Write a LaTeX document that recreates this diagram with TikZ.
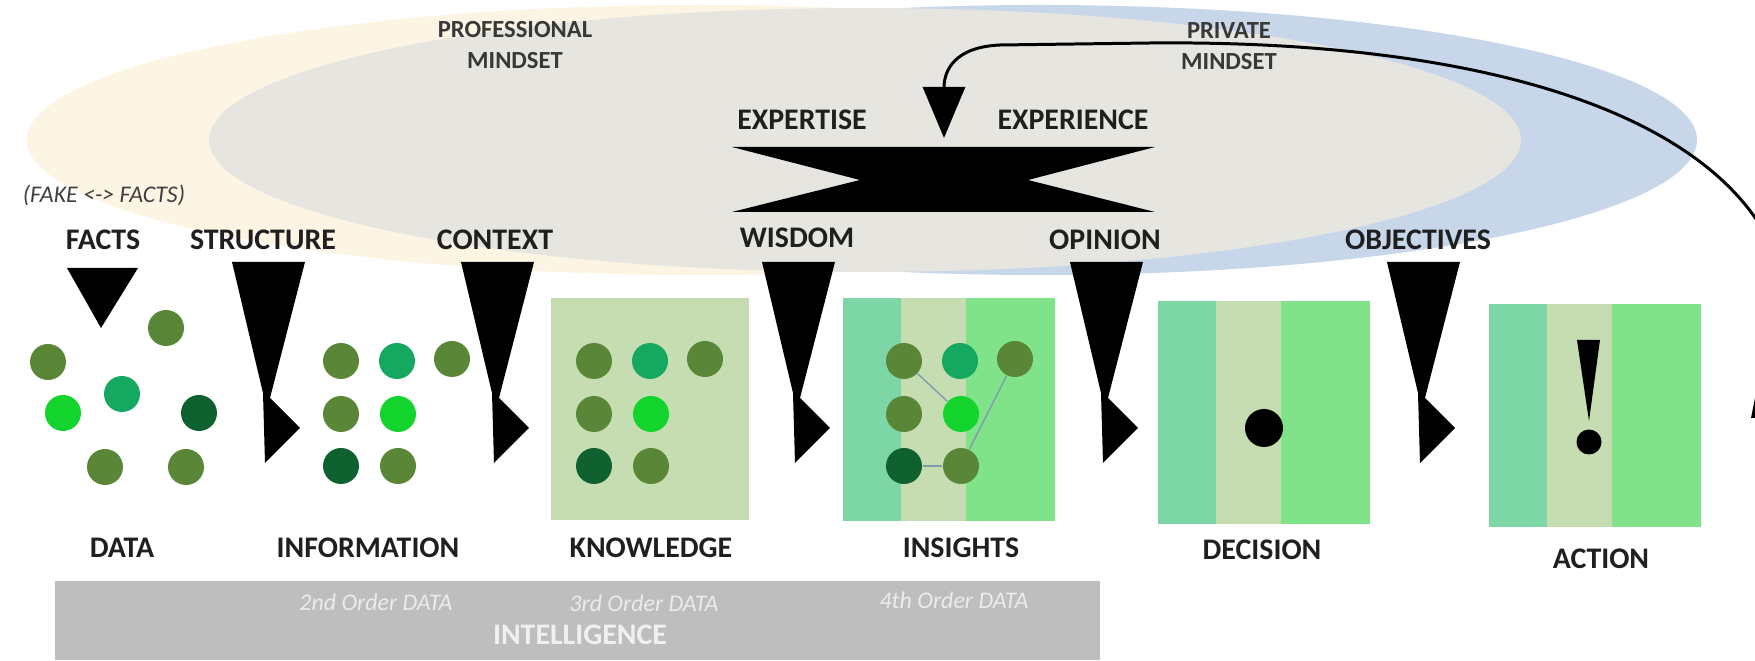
\documentclass[tikz,border=0pt]{standalone}
\usepackage{fontspec}
\setmainfont{Carlito}
\usetikzlibrary{arrows.meta}

\definecolor{creamfill}{HTML}{FCF5E3}
\definecolor{greyfill}{HTML}{E6E5DF}
\definecolor{bluefill}{HTML}{C8D6EA}
\definecolor{dotolive}{HTML}{5A8737}
\definecolor{dotteal}{HTML}{14A860}
\definecolor{dotbright}{HTML}{12D42C}
\definecolor{dotdark}{HTML}{0F6130}
\definecolor{stripeteal}{HTML}{7DD6A5}
\definecolor{stripepale}{HTML}{C5DDB0}
\definecolor{stripegreen}{HTML}{80E38A}
\definecolor{barfill}{HTML}{BEBEBE}
\definecolor{linkblue}{HTML}{7F9BB0}

\tikzset{
  lbl/.style={font=\fontsize{8.5}{10}\selectfont\bfseries, text=black!88, inner sep=0pt},
  mind/.style={font=\fontsize{7}{8.8}\selectfont\bfseries, text=black!78, align=center, inner sep=0pt},
  order/.style={font=\fontsize{6.8}{8}\selectfont\itshape, text=white!92!black, inner sep=0pt},
  dot/.style={circle, fill=#1, minimum size=3.6mm, inner sep=0pt},
  funnel/.style={fill=black},
  link/.style={line width=0.4pt, color=linkblue},
  loopback/.style={line width=0.85pt, -{Triangle[width=4.2mm,length=5.1mm]}},
}

\begin{document}
\begin{tikzpicture}[x=0.1mm, y=-0.1mm]
  \useasboundingbox[fill=white] (0,0) rectangle (1755,661);

  % mindset clouds
  \fill[creamfill] (700,140) ellipse [x radius=67.3mm, y radius=13.5mm];
  \fill[bluefill] (1040,140) ellipse [x radius=65.7mm, y radius=13.5mm];
  \fill[greyfill] (865,140) ellipse [x radius=65.6mm, y radius=13.2mm];

  \node[mind] (profmind) at (515,45) {PROFESSIONAL\\MINDSET};
  \node[mind] (privmind) at (1229,46) {PRIVATE\\MINDSET};
  \node[order, text=black!75, font=\fontsize{6.8}{8}\selectfont\itshape] (fake) at (104,195) {(FAKE <-> FACTS)};

  \node[lbl] (expertise) at (802,120) {EXPERTISE};
  \node[lbl] (experience) at (1073,120) {EXPERIENCE};
  \fill (732,147) -- (1155,147) -- (1028,180) -- (1155,212) -- (732,212) -- (860,180) -- cycle;

  % loop back from action
  \coordinate (loopin) at (1760,225);
  \coordinate (bowtop) at (944,138);
  \draw[loopback] (loopin) .. controls (1680,100) and (1450,40) .. (1150,43)
     -- (1000,45) .. controls (955,47) and (944,70) .. (bowtop);
  \fill (1751,418) -- (1757,388) -- (1765,418) -- cycle;

  % step labels and funnels
  \node[lbl] (facts) at (103,240) {FACTS};
  \node[lbl] (structure) at (263,240) {STRUCTURE};
  \node[lbl] (context) at (495,240) {CONTEXT};
  \node[lbl] (wisdom) at (797,238) {WISDOM};
  \node[lbl] (opinion) at (1105,240) {OPINION};
  \node[lbl] (objectives) at (1418,240) {OBJECTIVES};

  \fill[funnel] (67,268) -- (138,268) -- (101,328) -- cycle;
  \foreach \fx in {232,461,762,1070,1387}
    \fill[funnel] (\fx,262) -- (\fx+73,262) -- (\fx+38,398) -- (\fx+68,428)
       -- (\fx+33,463) -- (\fx+31,393) -- cycle;

  % boxes
  \fill[stripepale] (551,298) rectangle (749,520);
  \foreach \bx/\by in {843/298, 1158/301, 1489/304}{
    \fill[stripeteal] (\bx,\by) rectangle ++(58,223);
    \fill[stripepale] (\bx+58,\by) rectangle ++(65,223);
    \fill[stripegreen] (\bx+123,\by) rectangle ++(89,223);
  }

  % raw data
  \node[dot=dotolive] (da1) at (166,328) {};
  \node[dot=dotolive] (da2) at (48,362) {};
  \node[dot=dotteal] (da3) at (122,394) {};
  \node[dot=dotbright] (da4) at (63,413) {};
  \node[dot=dotdark] (da5) at (199,413) {};
  \node[dot=dotolive] (da6) at (105,467) {};
  \node[dot=dotolive] (da7) at (186,467) {};

  % ordered data
  \foreach \gx/\gn in {341/in, 594/kn, 904/is}{
    \node[dot=dotolive] (\gn1) at (\gx,361) {};
    \node[dot=dotteal] (\gn2) at (\gx+56,361) {};
    \node[dot=dotolive] (\gn3) at (\gx+111,359) {};
    \node[dot=dotolive] (\gn4) at (\gx,414) {};
    \node[dot=dotbright] (\gn5) at (\gx+57,414) {};
    \node[dot=dotdark] (\gn6) at (\gx,466) {};
    \node[dot=dotolive] (\gn7) at (\gx+57,466) {};
  }
  \draw[link] (is1) -- (is5);
  \draw[link] (is3) -- (is7);
  \draw[link] (is6) -- (is7);

  \node[circle, fill=black, minimum size=3.8mm, inner sep=0pt] (choice) at (1264,428) {};
  \fill (1577,340) -- (1600,340) -- (1589,421) -- cycle;
  \node[circle, fill=black, minimum size=2.5mm, inner sep=0pt] (point) at (1589,442) {};

  \node[lbl] (data) at (122,548) {DATA};
  \node[lbl] (information) at (368,548) {INFORMATION};
  \node[lbl] (knowledge) at (651,548) {KNOWLEDGE};
  \node[lbl] (insights) at (961,548) {INSIGHTS};
  \node[lbl] (decision) at (1262,550) {DECISION};
  \node[lbl] (action) at (1601,559) {ACTION};

  % intelligence bar
  \fill[barfill] (55,581) rectangle (1100,660);
  \node[order] (order2) at (376,602) {2nd Order DATA};
  \node[order] (order3) at (644,603) {3rd Order DATA};
  \node[order] (order4) at (954,600) {4th Order DATA};
  \node[lbl, text=white!94!black] (intelligence) at (580,635) {INTELLIGENCE};
\end{tikzpicture}
\end{document}
